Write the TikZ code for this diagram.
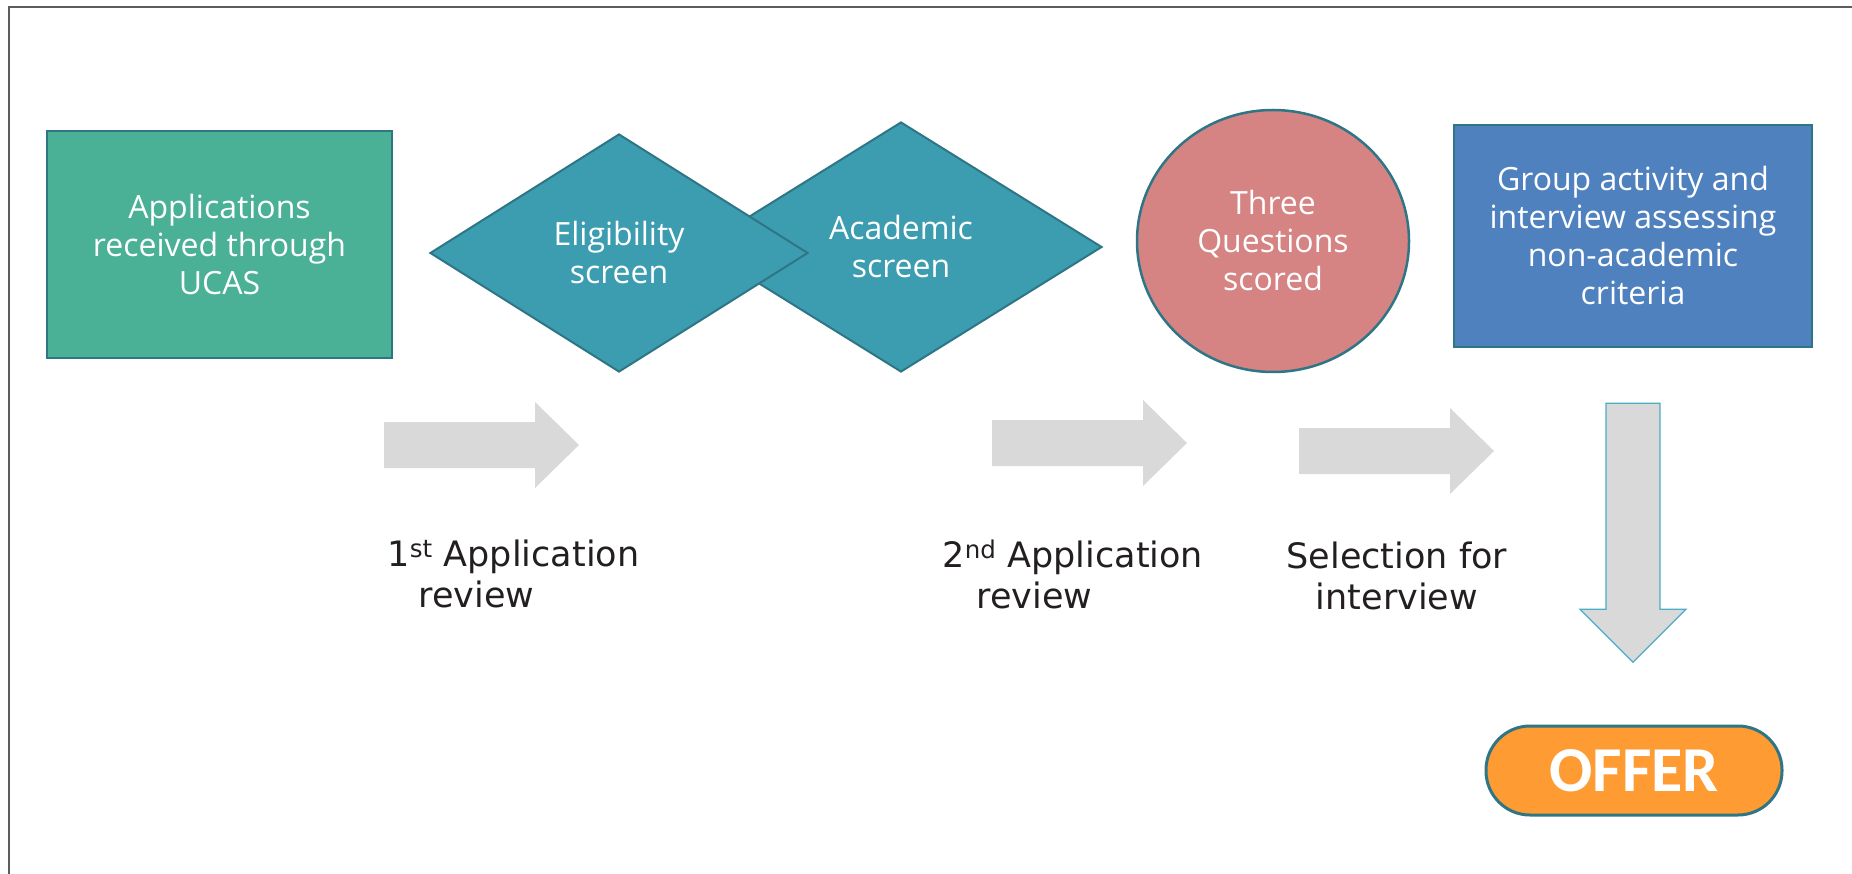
\documentclass[tikz,border=0pt]{standalone}
\usepackage{fontspec}
\usepackage{tikz}
\usetikzlibrary{calc}
\usetikzlibrary{shapes.geometric}
\usetikzlibrary{positioning}
\newfontfamily\boxfont{Open Sans}
\newfontfamily\labelfont{DejaVu Sans}
\newfontfamily\offerfont{Carlito}
\definecolor{framegrey}{HTML}{5A5F5D}
\definecolor{edgeteal}{HTML}{2E7585}
\definecolor{lineteal}{HTML}{4BACC6}
\definecolor{ucasgreen}{HTML}{4AB196}
\definecolor{screenteal}{HTML}{3C9DB0}
\definecolor{qpink}{HTML}{D68384}
\definecolor{groupblue}{HTML}{4F81BF}
\definecolor{offerorange}{HTML}{FF9B33}
\definecolor{arrowgrey}{HTML}{D9D9D9}
\definecolor{labelblack}{HTML}{231F20}

\begin{document}
\begin{tikzpicture}[x=1pt, y=-1pt,
  boxtext/.style={font={\boxfont\fontsize{32}{38}\selectfont}, text=white, align=center},
  steptext/.style={font={\labelfont\fontsize{35}{41}\selectfont}, text=labelblack},
  stagebox/.style={boxtext, draw=edgeteal, line width=2.5pt, inner sep=0pt},
  screen/.style={stagebox, diamond, fill=screenteal, line width=2pt}]
  \useasboundingbox (0,0) rectangle (1852,874);
  \draw[framegrey, line width=2.5pt] (1852,7) -- (9,7) -- (9,874);

  \node[stagebox, rectangle, fill=ucasgreen, minimum width=345pt, minimum height=227pt]
    (ucas) at (219.5,244.5) {Applications\\received through\\UCAS};
  \node[screen, minimum width=402pt, minimum height=250pt]
    (academic) at (901,247) {Academic\\screen};
  \node[screen, minimum width=378pt, minimum height=238pt]
    (eligible) at (619,253) {Eligibility\\screen};
  \node[stagebox, ellipse, fill=qpink, minimum width=272pt, minimum height=262pt]
    (questions) at (1273,241) {Three\\Questions\\scored};
  \node[stagebox, rectangle, fill=groupblue, minimum width=358pt, minimum height=222pt]
    (interview) at (1633,236) {Group activity and\\interview assessing\\non-academic\\criteria};

  \foreach \x/\y in {384/445, 992/443, 1299/451}
    \fill[arrowgrey] (\x,\y) ++(0,-23) -- ++(151,0) -- ++(0,-20) -- ++(44,43)
      -- ++(-44,43) -- ++(0,-20) -- ++(-151,0) -- cycle;

  \coordinate (down) at ($(interview.south)+(0,55)$);
  \draw[lineteal, fill=arrowgrey, line width=1.2pt] (down) ++(-27,0) -- ++(0,206)
    -- ++(-26,0) -- ++(53,53) -- ++(53,-53) -- ++(-26,0) -- ++(0,-206) -- cycle;

  \node[steptext, align=left, anchor=west] (review1) at (384,574)
    {1\textsuperscript{st} Application\\\hspace*{31pt}review};
  \node[steptext, align=left, anchor=west] (review2) at (939,574)
    {2\textsuperscript{nd} Application\\\hspace*{34pt}review};
  \node[steptext, align=center] (select) at (1397,576) {Selection for\\interview};

  \node[draw=edgeteal, line width=3pt, fill=offerorange, rounded corners=44pt,
    minimum width=296pt, minimum height=89pt, text=white,
    font={\offerfont\bfseries\fontsize{64}{70}\selectfont}]
    (offer) at (1634,770.5) {OFFER};
\end{tikzpicture}
\end{document}
